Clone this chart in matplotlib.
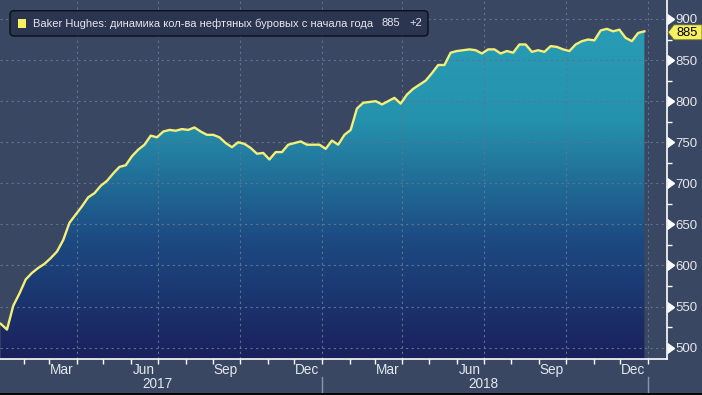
import numpy as np
import pandas as pd
import matplotlib
matplotlib.use("Agg")
import matplotlib.pyplot as plt
import matplotlib.dates as mdates
import matplotlib.transforms as mtransforms
from matplotlib.colors import LinearSegmentedColormap
from matplotlib.patches import Polygon, FancyBboxPatch, Rectangle

# ---------------- data ----------------
dates_2017 = pd.date_range("2017-01-06", periods=52, freq="7D")
rigs_2017 = [529, 522, 551, 566, 583, 591, 597, 602, 609, 617,
             631, 652, 662, 672, 683, 688, 697, 703, 712, 720,
             722, 733, 741, 747, 758, 756, 763, 765, 764, 766,
             765, 768, 763, 759, 759, 756, 749, 744, 750, 748,
             743, 736, 737, 729, 738, 738, 747, 749, 751, 747,
             747, 747]
dates_2018 = pd.date_range("2018-01-05", periods=52, freq="7D")
rigs_2018 = [742, 752, 747, 759, 765, 791, 798, 799, 800, 796,
             800, 804, 797, 808, 815, 820, 825, 834, 844, 844,
             859, 861, 862, 863, 862, 858, 863, 863, 858, 861,
             859, 869, 869, 860, 862, 860, 867, 866, 863, 861,
             869, 873, 875, 874, 886, 888, 885, 887, 877, 873,
             883, 885]
y_ticks = [500, 550, 600, 650, 700, 750, 800, 850, 900]
y_minor = [525, 575, 625, 675, 725, 775, 825, 875]
month_labels = ["Mar", "Jun", "Sep", "Dec"]
month_numbers = [3, 6, 9, 12]
years = [2017, 2018]
legend_text = "Baker Hughes: динамика кол-ва нефтяных буровых с начала года"
last_value = "885"
last_change = "+2"

# ---------------- style ----------------
BG = "#3a4762"
TXT = "#e4e7ec"
GRID = "#5f7290"
LINE = "#f3ef78"
YEL = "#f7f060"
FONT = "Liberation Sans"
plt.rcParams["font.family"] = [FONT, "DejaVu Sans"]

dates = dates_2017.append(dates_2018)
rigs = np.array(rigs_2017 + rigs_2018, dtype=float)
x = mdates.date2num(dates)

fig = plt.figure(figsize=(7.02, 3.95), dpi=100)
fig.patch.set_facecolor(BG)
ax = fig.add_axes([0, 36 / 395, 667 / 702, 359 / 395])
ax.set_facecolor(BG)

x0 = mdates.date2num(pd.Timestamp("2017-01-05 04:00"))
x1 = mdates.date2num(pd.Timestamp("2019-01-22 08:00"))
ymin, ymax = 486.2, 923.1

# gradient fill under the line
verts = [(x[0], ymin)] + list(zip(x, rigs)) + [(x[-1], ymin)]
poly = Polygon(verts, closed=True, facecolor="none", edgecolor="none",
               transform=ax.transData)
ax.add_patch(poly)
cmap = LinearSegmentedColormap.from_list("g", ["#1a205c", "#1d4a82", "#2592ad", "#2a9fb8"])
grad = np.linspace(0, 1, 256).reshape(-1, 1)
im = ax.imshow(grad, extent=[x0, x1, ymin, ymax], aspect="auto", cmap=cmap,
               origin="lower", zorder=1, interpolation="bilinear")
im.set_clip_path(poly)

# grid
ax.hlines(y_ticks, x0, x1, colors=GRID, linewidth=0.8, linestyles=(0, (2, 3)), zorder=2)
quarters = pd.to_datetime(["2017-04-01", "2017-07-01", "2017-10-01", "2018-01-01",
                           "2018-04-01", "2018-07-01", "2018-10-01", "2019-01-01"])
ax.vlines(mdates.date2num(quarters), ymin, ymax, colors=GRID, linewidth=0.8,
          linestyles=(0, (2, 3)), zorder=2)

ax.plot(x, rigs, color=LINE, lw=1.7, zorder=3, solid_joinstyle="round")

ax.set_xlim(x0, x1)
ax.set_ylim(ymin, ymax)

# spines
for s in ["top", "left"]:
    ax.spines[s].set_visible(False)
for s in ["right", "bottom"]:
    ax.spines[s].set_color("white")
    ax.spines[s].set_linewidth(1.2)

# y axis (right)
ax.yaxis.tick_right()
ax.set_yticks(y_ticks)
ax.set_yticklabels([str(v) for v in y_ticks])
ax.set_yticks(y_minor, minor=True)
ax.tick_params(axis="y", which="major", length=0, pad=6, labelsize=9.5, labelcolor=TXT)
ax.tick_params(axis="y", which="minor", length=3.5, width=1, color="white", direction="out")
btr = mtransforms.blended_transform_factory(ax.transAxes, ax.transData)
ax.plot([1.0] * len(y_ticks), y_ticks, ls="none", marker=9, ms=6.5, color="white",
        transform=btr, clip_on=False, zorder=5)

# x axis
mid_months = [pd.Timestamp(year=yy, month=m, day=15) for yy in years for m in month_numbers]
ax.set_xticks(mdates.date2num(mid_months))
ax.set_xticklabels(month_labels * len(years))
month_starts = pd.date_range("2017-02-01", "2019-01-01", freq="MS")
ax.set_xticks(mdates.date2num(month_starts), minor=True)
ax.tick_params(axis="x", which="major", length=0, pad=3, labelsize=9.8, labelcolor=TXT)
ax.tick_params(axis="x", which="minor", length=3.5, width=1, color="white", direction="out")

bxt = mtransforms.blended_transform_factory(ax.transData, ax.transAxes)
for yy in years:
    ax.text(mdates.date2num(pd.Timestamp(year=yy, month=7, day=1)), (359 - 384) / 359, str(yy),
            transform=bxt, ha="center", va="center", fontsize=9.8, color=TXT)
for sep in pd.to_datetime(["2018-01-01", "2019-01-01"]):
    ax.plot([mdates.date2num(sep)] * 2, [(359 - 377) / 359, -36 / 359], color="#8c96aa",
            lw=1, transform=bxt, clip_on=False)

# legend box (pixel coordinates, origin at top-left -> inches)
def px(xp, yp):
    return xp / 100.0, (395 - yp) / 100.0

tr = fig.dpi_scale_trans
bx, by = px(10, 36)
box = FancyBboxPatch((bx, by), 4.18, 0.253, boxstyle="round,pad=0,rounding_size=0.04",
                     facecolor="#2b3550", edgecolor="#0c0f16", lw=1, transform=tr, zorder=10)
fig.add_artist(box)
sx, sy = px(18, 27.5)
fig.add_artist(Rectangle((sx, sy), 0.08, 0.08, facecolor=YEL, edgecolor="none",
                         transform=tr, zorder=11))
tx, ty = px(33, 23.5)
fig.text(tx, ty, legend_text, transform=tr, fontsize=8.05, color=TXT, va="center",
         ha="left", zorder=12)
fig.text(*px(381, 23.5), last_value, transform=tr, fontsize=8.05, color=TXT, va="center",
         ha="left", zorder=12)
fig.text(*px(409, 23.5), last_change, transform=tr, fontsize=8.05, color=TXT, va="center",
         ha="left", zorder=12)

# last value tag
yc_disp = ax.transData.transform((x[-1], rigs[-1]))[1]
yc = yc_disp / fig.dpi - 0.01
xl = 668 / 100.0
hh = 0.075
tag = Polygon([(xl, yc), (xl + 0.06, yc + hh), (7.02, yc + hh), (7.02, yc - hh),
               (xl + 0.06, yc - hh)], closed=True, facecolor=YEL, edgecolor="#6b6a30",
              lw=0.6, transform=tr, zorder=12)
fig.add_artist(tag)
fig.text(6.87, yc - 0.005, last_value, transform=tr, fontsize=9.3, color="black", ha="center",
         va="center", zorder=13)

# bottom dark border
fig.add_artist(Rectangle((0, 0), 7.02, 0.025, facecolor="#05070a", edgecolor="none",
                         transform=tr, zorder=20))

fig.savefig("out.png", dpi=100, facecolor=BG)
